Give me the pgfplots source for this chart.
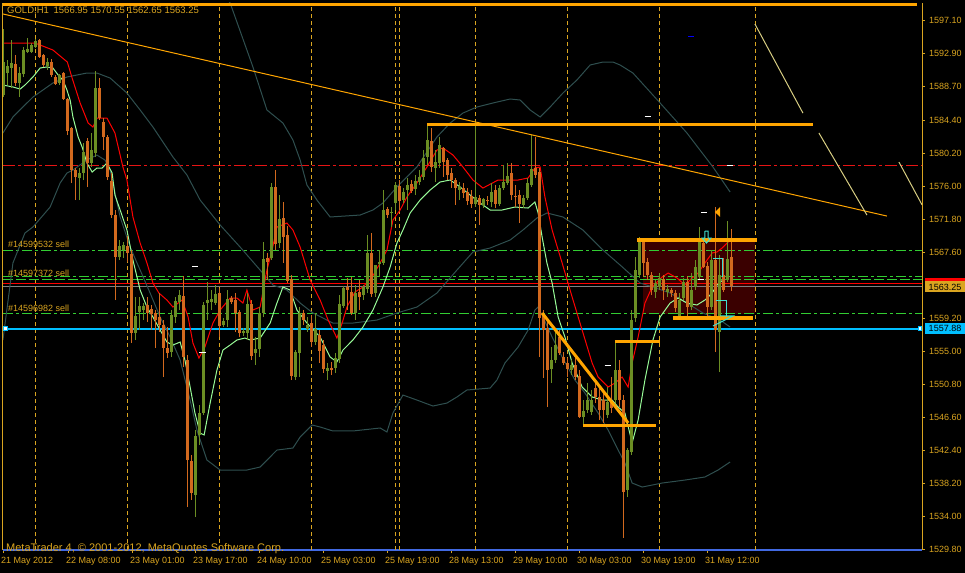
\documentclass[border=0pt]{standalone}
\usepackage{pgfplots}
\pgfplotsset{compat=1.18}
\usepackage{pgfplotstable}
\usepackage{fontspec}
\setmainfont{Liberation Sans}
\definecolor{mtgold}{RGB}{218,165,32}
\definecolor{upc}{RGB}{107,142,35}
\definecolor{dnc}{RGB}{210,105,30}
\definecolor{bbc}{RGB}{47,79,79}
\definecolor{mapg}{RGB}{152,251,152}
\definecolor{lgreen}{RGB}{50,205,50}
\definecolor{dsky}{RGB}{0,191,255}
\definecolor{orng}{RGB}{255,165,0}
\definecolor{khk}{RGB}{215,205,130}
\definecolor{rectc}{RGB}{58,0,0}
\definecolor{turq}{RGB}{64,224,208}
\definecolor{royal}{RGB}{65,105,225}
\definecolor{redl}{RGB}{230,20,20}

\pgfplotstableread{
n o h l c
1 1587.64 1596.05 1587.38 1591.84
2 1590.44 1592.10 1588.91 1591.33
3 1591.08 1594.64 1588.53 1591.71
5 1589.17 1591.21 1587.38 1590.44
6 1590.31 1593.75 1589.93 1593.37
7 1593.12 1594.90 1592.99 1593.50
8 1593.12 1594.26 1592.99 1594.01
9 1593.75 1594.77 1593.63 1594.52
12 1591.33 1592.35 1590.82 1591.84
15 1589.17 1590.31 1588.91 1590.19
20 1577.06 1578.34 1574.26 1577.70
21 1577.70 1581.52 1576.81 1580.38
23 1578.98 1582.80 1578.47 1580.63
24 1580.25 1590.70 1579.74 1588.53
30 1567.00 1569.17 1566.62 1568.40
31 1567.89 1568.91 1566.87 1568.53
34 1557.32 1561.91 1556.43 1559.49
35 1559.99 1561.91 1557.70 1560.76
36 1560.25 1561.14 1558.97 1560.76
43 1554.90 1560.25 1554.26 1559.61
44 1559.36 1561.91 1558.59 1561.40
45 1561.27 1562.80 1560.25 1562.16
49 1536.68 1544.96 1533.88 1544.20
50 1544.33 1548.15 1543.05 1547.13
51 1547.13 1561.27 1546.87 1560.89
52 1561.14 1563.82 1558.97 1561.52
53 1561.27 1562.80 1560.25 1561.65
54 1561.14 1563.43 1560.89 1562.29
56 1558.34 1559.23 1558.08 1558.85
57 1558.97 1562.80 1558.08 1561.65
61 1557.32 1557.96 1556.94 1557.57
62 1557.32 1562.41 1556.43 1561.01
64 1554.77 1556.81 1553.24 1555.28
65 1555.28 1560.63 1554.26 1559.87
66 1559.87 1568.91 1559.36 1566.75
68 1566.87 1576.43 1566.62 1575.92
70 1568.78 1574.90 1568.15 1571.84
74 1551.71 1555.15 1551.33 1554.90
75 1554.77 1560.63 1551.71 1559.87
77 1557.83 1559.36 1557.45 1558.34
79 1556.17 1559.87 1555.79 1557.83
82 1552.48 1553.50 1551.33 1552.86
84 1552.86 1554.77 1552.22 1554.13
85 1554.01 1562.16 1553.50 1561.01
86 1560.76 1563.31 1560.50 1563.05
89 1559.87 1563.43 1558.97 1562.41
91 1562.16 1563.43 1561.52 1563.18
92 1562.92 1569.80 1562.41 1567.51
94 1562.41 1565.98 1561.91 1565.98
95 1566.11 1567.89 1564.45 1566.36
96 1566.24 1575.54 1565.98 1572.99
98 1572.61 1573.37 1570.82 1572.73
99 1573.88 1576.56 1572.99 1576.17
101 1574.26 1575.79 1573.88 1575.28
102 1575.54 1577.07 1572.99 1576.17
104 1575.66 1577.45 1574.90 1576.68
105 1576.56 1578.08 1576.17 1577.19
106 1577.19 1580.63 1576.81 1579.61
107 1579.74 1583.82 1578.72 1581.91
109 1578.34 1580.63 1576.56 1579.10
110 1578.98 1582.29 1578.34 1581.27
115 1575.54 1576.56 1574.26 1575.92
119 1573.75 1584.20 1573.37 1574.64
121 1573.63 1574.52 1573.24 1574.39
123 1574.01 1576.43 1573.37 1575.28
125 1573.75 1576.17 1573.50 1575.79
126 1575.79 1578.72 1575.54 1576.56
127 1576.43 1578.98 1576.17 1577.32
131 1573.63 1574.90 1573.24 1574.52
132 1574.52 1577.07 1574.26 1576.43
133 1576.17 1582.54 1575.92 1578.21
138 1552.73 1555.54 1550.95 1553.88
139 1553.88 1557.70 1553.50 1555.79
143 1552.60 1553.88 1551.97 1553.24
146 1546.62 1548.78 1545.60 1547.38
147 1547.51 1550.95 1547.13 1548.78
148 1547.26 1550.06 1546.87 1548.78
152 1546.87 1550.44 1546.49 1548.53
154 1548.78 1556.17 1548.40 1552.60
157 1537.32 1542.67 1536.43 1542.41
158 1542.16 1560.25 1541.78 1558.97
159 1559.23 1567.00 1558.72 1565.34
160 1564.71 1569.55 1564.33 1569.17
164 1562.54 1564.07 1561.78 1563.69
165 1563.18 1564.96 1562.80 1564.33
167 1562.54 1563.43 1561.91 1562.92
170 1559.36 1562.41 1558.97 1561.52
171 1561.78 1564.33 1561.52 1563.82
173 1560.63 1564.96 1560.25 1562.80
174 1563.18 1566.62 1562.80 1565.73
175 1564.45 1570.82 1564.07 1569.17
178 1560.63 1567.89 1560.25 1566.62
180 1557.45 1567.26 1552.35 1564.71
182 1564.07 1571.59 1563.82 1566.75
}\tabup

\pgfplotstableread{
n o h l c
4 1591.59 1592.73 1588.78 1589.17
10 1594.64 1594.77 1592.35 1592.48
11 1592.73 1592.86 1591.21 1591.46
13 1591.84 1592.22 1589.93 1590.19
14 1589.93 1590.19 1588.91 1589.04
16 1590.44 1590.57 1587.00 1587.13
17 1587.13 1587.26 1582.54 1583.05
18 1583.43 1583.56 1576.43 1578.08
19 1578.08 1578.34 1574.26 1577.19
22 1581.78 1582.16 1575.92 1578.98
25 1588.53 1589.80 1584.45 1584.71
26 1584.20 1584.71 1580.63 1582.29
27 1582.29 1582.54 1576.81 1577.19
28 1576.68 1577.70 1571.97 1572.35
29 1572.35 1572.99 1561.52 1567.00
32 1568.40 1569.68 1566.36 1567.51
33 1567.38 1567.89 1556.04 1557.32
37 1560.89 1561.91 1558.72 1559.87
38 1560.38 1560.89 1557.70 1559.74
39 1559.87 1560.25 1555.41 1558.97
40 1559.36 1562.41 1557.45 1558.34
41 1558.34 1558.97 1551.71 1555.41
42 1555.41 1558.08 1554.13 1554.77
46 1562.03 1564.58 1552.99 1554.26
47 1553.88 1554.52 1535.15 1541.14
48 1541.01 1541.78 1536.05 1536.94
55 1562.41 1563.05 1556.81 1558.21
58 1561.78 1562.03 1561.01 1561.27
59 1561.52 1562.41 1557.45 1559.87
60 1559.99 1560.25 1556.81 1557.32
63 1561.01 1561.52 1553.88 1554.39
67 1566.87 1567.51 1564.07 1566.36
69 1575.92 1578.08 1567.89 1568.66
71 1571.97 1574.01 1566.24 1569.55
72 1569.80 1570.95 1563.69 1563.94
73 1564.20 1564.71 1551.33 1551.84
76 1559.87 1560.25 1558.34 1558.97
78 1558.59 1559.61 1555.54 1556.17
80 1557.07 1557.70 1553.50 1555.03
81 1555.79 1556.43 1552.22 1552.73
83 1552.86 1553.63 1551.97 1552.60
87 1563.18 1564.33 1560.25 1562.80
88 1562.54 1564.45 1559.61 1559.87
90 1562.54 1564.07 1560.25 1561.91
93 1567.51 1570.06 1561.91 1562.29
97 1573.12 1573.37 1571.97 1572.35
100 1576.05 1576.81 1572.99 1574.13
103 1576.30 1576.81 1575.15 1575.41
108 1581.78 1583.43 1577.83 1578.47
111 1580.89 1581.01 1577.19 1579.10
112 1579.36 1579.61 1576.81 1577.45
113 1577.70 1578.34 1575.79 1576.81
114 1576.81 1577.07 1573.63 1575.79
116 1575.79 1576.43 1574.52 1575.15
117 1575.28 1575.79 1573.63 1574.13
118 1574.77 1575.54 1573.24 1573.75
120 1574.52 1574.90 1571.08 1573.63
122 1574.26 1574.77 1573.63 1574.13
124 1575.54 1576.17 1573.24 1573.75
128 1577.70 1578.98 1574.26 1574.90
129 1574.77 1576.17 1573.37 1574.64
130 1574.90 1575.54 1571.33 1573.75
134 1578.34 1582.29 1577.07 1577.45
135 1577.83 1578.34 1554.26 1559.23
136 1559.61 1560.25 1551.59 1557.70
137 1557.96 1558.97 1547.89 1552.60
140 1556.81 1557.70 1554.52 1554.77
141 1554.26 1554.90 1553.24 1553.50
142 1553.50 1554.13 1551.71 1552.73
144 1553.24 1554.26 1551.33 1551.71
145 1551.84 1552.60 1546.49 1546.62
149 1550.31 1551.33 1548.40 1549.17
150 1549.17 1550.44 1546.24 1547.51
151 1548.78 1549.68 1545.86 1547.51
153 1548.53 1551.71 1547.13 1547.76
155 1552.60 1553.88 1547.89 1548.78
156 1548.78 1549.42 1531.21 1537.06
161 1569.17 1569.42 1564.45 1566.24
162 1566.36 1566.87 1564.07 1564.71
163 1564.71 1565.09 1562.16 1562.80
166 1564.20 1564.71 1561.52 1562.80
168 1562.80 1563.05 1561.91 1562.41
169 1562.41 1562.80 1559.99 1560.50
172 1563.82 1564.58 1559.36 1560.63
176 1568.78 1569.17 1565.60 1565.73
177 1565.85 1566.36 1559.36 1560.63
179 1566.62 1573.37 1554.90 1557.70
181 1564.71 1566.87 1562.54 1562.80
183 1566.95 1570.55 1562.65 1563.25
}\tabdn

\begin{document}
\begin{tikzpicture}
\fill[black] (0,0) rectangle (965bp,573bp);
\begin{axis}[
  at={(3bp,23bp)}, anchor=south west, scale only axis,
  width=919bp, height=547bp,
  xmin=0.9167, xmax=230.67, ymin=1529.68, ymax=1599.36,
  axis x line*=bottom, axis y line*=right,
  x axis line style={draw=royal, line width=2bp},
  y axis line style={draw=mtgold, line width=1bp},
  tick align=outside, major tick length=3bp,
  tick style={draw=mtgold, line width=1bp},
  tick label style={font=\fontsize{9bp}{10bp}\selectfont, text=mtgold},
  xtick={0.92,17.17,33.17,48.92,64.92,80.92,96.92,112.92,128.92,144.92,160.92,176.92},
  xticklabels={21 May 2012,22 May 08:00,23 May 01:00,23 May 17:00,24 May 10:00,25 May 03:00,25 May 19:00,28 May 13:00,29 May 10:00,30 May 03:00,30 May 19:00,31 May 12:00},
  xticklabel style={anchor=north west, inner sep=0pt, xshift=-2bp, yshift=-4bp},
  ytick={1529.8,1534.0,1538.2,1542.4,1546.6,1550.8,1555.0,1559.2,1567.6,1571.8,1576.0,1580.2,1584.4,1588.7,1592.9,1597.1},
  yticklabels={1529.80,1534.00,1538.20,1542.40,1546.60,1550.80,1555.00,1559.20,1567.60,1571.80,1576.00,1580.20,1584.40,1588.70,1592.90,1597.10},
  yticklabel style={anchor=west, inner sep=0pt, xshift=4bp},
  extra x ticks={8.92,31.92,54.92,77.92,98.92,99.92,118.92,141.92,164.92,188.92},
  extra x tick labels={},
  extra x tick style={grid=major, major tick length=0pt},
  major grid style={draw=mtgold, dash pattern=on 4bp off 3bp, line width=1bp},
  clip=true,
]
% rectangle zone
\addplot[draw=none, fill=rectc] coordinates {(160.9,1559.74) (188.9,1559.74) (188.9,1568.91) (160.9,1568.91)} -- cycle;
% horizontal order / price lines
\addplot[redl, line width=1bp, dash pattern=on 12bp off 3bp on 3bp off 3bp] coordinates {(0.9167,1578.68) (230.67,1578.68)};
\addplot[lgreen, line width=1bp, dash pattern=on 10bp off 3bp on 3bp off 3bp] coordinates {(0.9167,1567.80) (230.67,1567.80)};
\addplot[lgreen, line width=1bp, dash pattern=on 10bp off 3bp on 3bp off 3bp] coordinates {(0.9167,1564.54) (230.67,1564.54)};
\addplot[lgreen, line width=1bp, dash pattern=on 10bp off 3bp] coordinates {(0.9167,1564.16) (230.67,1564.16)};
\addplot[red, line width=1bp] coordinates {(0.9167,1563.60) (230.67,1563.60)};
\addplot[gray, line width=1bp] coordinates {(0.9167,1563.25) (230.67,1563.25)};
\addplot[lgreen, line width=1bp, dash pattern=on 10bp off 3bp on 3bp off 3bp] coordinates {(0.9167,1559.83) (230.67,1559.83)};
\addplot[dsky, line width=2bp] coordinates {(0.9167,1557.88) (230.67,1557.88)};
% Bollinger bands
\addplot[bbc, line width=1bp] coordinates {(50.2,1604.84) (53.9,1602.03) (57.7,1599.36) (63.4,1591.21) (66.9,1585.73) (70.9,1584.07) (73.4,1581.91) (75.2,1579.36) (76.9,1576.17) (79.4,1574.26) (82.7,1572.10) (90.2,1572.35) (93.4,1572.99) (95.9,1573.88) (99.4,1575.92) (104.4,1578.47) (109.4,1582.29) (112.7,1584.07) (115.9,1585.34) (119.4,1586.11) (123.4,1586.62) (127.7,1587.13) (130.2,1587.00) (132.7,1585.73) (135.2,1584.84) (137.7,1586.11) (140.9,1587.89) (144.4,1589.55) (147.7,1591.46) (150.9,1591.84) (153.4,1591.84) (155.2,1591.46) (158.4,1590.44) (165.2,1586.62) (171.9,1582.80) (178.4,1578.47) (182.7,1575.28)};
\addplot[bbc, line width=1bp] coordinates {(0.9,1582.80) (3.4,1584.84) (8.4,1587.38) (13.4,1589.17) (16.9,1589.93) (21.9,1590.44) (24.4,1590.44) (27.7,1589.80) (31.9,1587.89) (35.2,1585.73) (38.4,1583.56) (43.4,1579.74) (46.9,1577.45) (50.2,1574.26) (55.2,1571.08) (60.2,1568.27) (65.2,1565.34) (68.4,1563.43) (71.9,1562.80) (75.2,1561.14) (78.4,1559.87) (83.4,1558.59) (88.4,1558.59) (94.4,1558.97) (99.4,1559.87) (104.4,1560.63) (109.4,1562.41) (114.4,1565.34) (118.4,1567.64) (122.7,1568.15) (127.7,1569.17) (130.9,1570.44) (134.4,1571.97) (136.9,1572.61) (140.9,1572.10) (145.9,1570.44) (150.9,1567.89) (155.2,1565.98) (160.2,1563.69) (163.4,1563.18) (167.7,1562.41) (171.9,1561.14) (175.9,1559.87) (180.2,1558.97) (182.7,1558.08)};
\addplot[bbc, line width=1bp] coordinates {(0.9,1556.43) (3.4,1566.24) (6.4,1570.06) (8.4,1570.82) (12.7,1573.37) (15.2,1576.43) (16.9,1577.70) (18.4,1578.08) (21.9,1579.36) (24.4,1579.99) (26.4,1579.36) (27.7,1578.08) (30.2,1572.10) (32.7,1568.27) (35.2,1565.34) (37.7,1562.41) (40.2,1559.36) (42.7,1556.81) (45.2,1553.88) (47.7,1548.78) (49.4,1544.96) (51.9,1541.14) (55.2,1539.87) (61.9,1539.87) (65.2,1540.25) (69.4,1542.41) (73.4,1542.67) (75.2,1544.07) (78.2,1545.60) (80.2,1545.35) (83.4,1544.84) (88.4,1544.84) (95.2,1545.22) (96.9,1544.71) (98.4,1547.13) (100.9,1549.42) (104.4,1548.78) (108.4,1548.02) (111.9,1548.40) (114.4,1549.17) (116.9,1550.06) (122.7,1550.31) (124.4,1551.33) (126.4,1553.50) (129.7,1555.54) (132.2,1557.70) (133.9,1560.25) (134.7,1560.63) (135.9,1559.36) (138.2,1556.81) (140.7,1554.26) (143.9,1551.33) (146.4,1549.68) (149.7,1547.13) (152.2,1544.96) (154.7,1542.41) (156.4,1540.76) (158.2,1538.21) (160.7,1537.70) (165.7,1538.21) (171.4,1538.59) (176.4,1538.98) (179.7,1539.87) (182.7,1540.89)};
% moving averages
\addplot[red, line width=1bp] coordinates {(0.9,1594.26) (8.9,1594.26) (13.4,1593.37) (17,1591.84) (18.2,1589.80) (20.2,1586.62) (22.2,1584.07) (23.4,1583.56) (24.4,1584.71) (26.9,1584.71) (28.9,1582.80) (30.9,1578.47) (31.9,1576.81) (33.4,1572.10) (35.2,1568.78) (36.9,1566.24) (38.4,1563.69) (39.9,1562.41) (41.9,1561.52) (43.4,1560.63) (45.7,1561.52) (47.2,1559.36) (48.4,1556.05) (49.9,1554.13) (51.4,1555.54) (53.4,1558.59) (55.2,1560.25) (57.7,1561.78) (59.4,1561.78) (60.9,1561.14) (61.9,1562.80) (63.4,1560.25) (65.2,1560.63) (66.9,1565.34) (68.2,1567.89) (69.4,1570.82) (71.9,1571.33) (73.4,1570.44) (75.2,1568.27) (77.7,1564.07) (80.2,1561.52) (82.2,1558.97) (84.4,1556.68) (85.7,1558.59) (86.9,1560.63) (88.9,1562.54) (90.9,1563.18) (93.2,1564.45) (95.2,1566.24) (96.9,1567.89) (98.4,1571.71) (100.2,1572.99) (101.9,1574.64) (104.4,1576.43) (106.9,1578.47) (109.4,1580.63) (110.9,1580.89) (113.4,1580.00) (115.9,1578.47) (118.4,1576.81) (120.9,1575.79) (124.7,1576.81) (129.7,1576.81) (132.2,1577.07) (133.9,1578.34) (135.2,1578.47) (136.4,1574.64) (138.2,1570.44) (140.7,1566.24) (143.2,1561.91) (145.7,1557.70) (148.2,1553.50) (149.7,1551.71) (152.2,1550.44) (153.9,1550.95) (155.7,1551.71) (157.2,1550.44) (158.2,1553.50) (159.7,1556.81) (161.4,1561.14) (163.2,1563.18) (165.7,1564.45) (167.2,1564.96) (169.4,1564.33) (171.4,1563.43) (173.2,1564.33) (174.7,1564.96) (176.4,1566.24) (178.2,1567.51) (179.4,1567.64) (180.7,1568.15) (182.7,1569.17)};
\addplot[mapg, line width=1bp] coordinates {(0.9,1588.91) (3.4,1588.66) (5.2,1588.40) (6.4,1588.91) (8.4,1589.93) (10.2,1591.08) (11.9,1591.21) (13.4,1591.08) (14.7,1590.19) (15.9,1589.55) (16.9,1588.27) (17.7,1587.00) (18.4,1584.84) (19.7,1582.29) (20.7,1581.01) (21.9,1578.98) (23.2,1577.83) (24.4,1578.34) (25.7,1578.34) (26.9,1578.98) (28.2,1577.70) (28.9,1574.90) (30.2,1572.99) (31.9,1570.44) (33.4,1566.62) (35.2,1562.80) (36.9,1560.63) (38.4,1559.36) (40.2,1557.70) (41.9,1556.17) (43.4,1555.79) (45.2,1556.17) (46.4,1553.88) (47.7,1550.44) (48.9,1547.13) (50.2,1544.58) (51.2,1544.33) (52.7,1548.40) (54.4,1552.60) (55.9,1555.15) (57.7,1555.79) (59.4,1556.43) (61.4,1556.68) (62.7,1556.43) (65.2,1556.68) (67.7,1558.59) (69.4,1561.14) (70.9,1563.18) (72.7,1562.80) (74.4,1560.25) (76.9,1558.59) (80.2,1556.81) (82.7,1554.26) (84.4,1553.63) (85.9,1555.15) (88.4,1556.43) (90.9,1558.08) (93.4,1560.25) (95.9,1563.18) (97.7,1565.73) (99.4,1568.78) (100.9,1570.44) (102.7,1572.61) (105.2,1574.26) (107.7,1575.54) (110.2,1576.56) (112.7,1576.81) (115.2,1575.92) (117.7,1574.90) (120.2,1573.88) (122.7,1572.99) (125.7,1572.99) (128.9,1573.37) (132.2,1573.24) (133.9,1574.01) (134.7,1572.61) (135.7,1569.55) (136.9,1566.24) (138.2,1563.69) (139.7,1559.36) (141.4,1556.81) (143.2,1553.50) (145.7,1550.44) (148.2,1549.17) (150.7,1548.78) (153.2,1548.78) (154.7,1547.89) (156.4,1547.13) (158.2,1543.31) (159.7,1546.24) (161.4,1551.33) (163.4,1556.43) (165.2,1559.36) (167.7,1561.14) (169.7,1561.78) (171.9,1561.14) (174.4,1560.89) (176.4,1561.52) (178.2,1562.41) (179.4,1563.43) (180.9,1564.07)};
% candles: wicks
\addplot[draw=none, mark=none, error bars/.cd, y dir=plus, y explicit, error mark=none, error bar style={draw=upc, line width=1bp}] table[x=n, y=l, y error plus expr={\thisrow{h}-\thisrow{l}}] {\tabup};
\addplot[draw=none, mark=none, error bars/.cd, y dir=plus, y explicit, error mark=none, error bar style={draw=dnc, line width=1bp}] table[x=n, y=l, y error plus expr={\thisrow{h}-\thisrow{l}}] {\tabdn};
% candles: bodies
\addplot[draw=none, mark=none, error bars/.cd, y dir=plus, y explicit, error mark=none, error bar style={draw=upc, line width=3bp}] table[x=n, y=o, y error plus expr={max(\thisrow{c}-\thisrow{o},0.13)}] {\tabup};
\addplot[draw=none, mark=none, error bars/.cd, y dir=plus, y explicit, error mark=none, error bar style={draw=dnc, line width=3bp}] table[x=n, y=c, y error plus expr={max(\thisrow{o}-\thisrow{c},0.13)}] {\tabdn};
% drawn objects
\addplot[orng, line width=3bp] coordinates {(0.92,1599.17) (229.4,1599.17)};
\addplot[orng, line width=1bp] coordinates {(0.92,1597.96) (221.9,1572.22)};
\addplot[orng, line width=3.5bp] coordinates {(106.9,1583.88) (203.4,1583.88)};
\addplot[orng, line width=3.5bp] coordinates {(159.4,1569.17) (189.4,1569.17)};
\addplot[orng, line width=3.5bp] coordinates {(168.4,1559.23) (188.4,1559.23)};
\addplot[orng, line width=3bp] coordinates {(153.9,1556.24) (165.2,1556.24)};
\addplot[orng, line width=3bp] coordinates {(145.9,1545.60) (164.2,1545.60)};
\addplot[orng, line width=3bp] coordinates {(135.7,1559.87) (157.2,1545.86)};
\addplot[khk, line width=1bp] coordinates {(188.9,1596.68) (200.9,1585.34)};
\addplot[khk, line width=1bp] coordinates {(204.9,1582.80) (216.9,1572.35)};
\addplot[khk, line width=1bp] coordinates {(224.9,1579.10) (230.7,1573.63)};
% small markers
\addplot[white, line width=1bp] coordinates {(48.2,1565.73) (49.7,1565.73)};
\addplot[white, line width=1bp] coordinates {(50.0,1554.90) (51.7,1554.90)};
\addplot[white, line width=1bp] coordinates {(151.3,1553.24) (152.8,1553.24)};
\addplot[white, line width=1bp] coordinates {(161.3,1584.96) (162.8,1584.96)};
\addplot[white, line width=1bp] coordinates {(181.9,1578.72) (183.4,1578.72)};
\addplot[white, line width=1bp] coordinates {(175.4,1572.73) (176.9,1572.73)};
\addplot[white, line width=1bp] coordinates {(174.6,1564.20) (176.1,1564.20)};
\addplot[blue, line width=1bp] coordinates {(172.2,1595.03) (173.7,1595.03)};
\addplot[turq, line width=1bp] coordinates {(176.4,1570.31) (177.2,1570.31) (177.2,1569.42) (177.9,1569.42) (176.8,1568.78) (175.7,1569.42) (176.4,1569.42) (176.4,1570.31)};
\addplot[turq, line width=1bp] coordinates {(178.4,1566.87) (180.9,1566.87) (180.9,1564.45)};
\addplot[turq, line width=1bp] coordinates {(179.2,1561.52) (181.7,1561.52) (181.7,1559.36)};
\addplot[turq, line width=1bp] coordinates {(178.4,1558.21) (183.4,1559.49) (180.2,1559.49)};
\addplot[draw=none, fill=orng] coordinates {(178.9,1572.73) (180.2,1573.37) (180.2,1572.10)} -- cycle;
\end{axis}
% frame pieces
\draw[mtgold, line width=1bp] (2.5bp,23bp) -- (2.5bp,570bp);
% texts
\node[anchor=base west, inner sep=0pt, text=mtgold, font=\fontsize{9.5bp}{10bp}\selectfont] at (7bp,559bp) {GOLD,H1\enspace 1566.95 1570.55 1562.65 1563.25};
\node[anchor=base west, inner sep=0pt, text=mtgold, font=\fontsize{9bp}{10bp}\selectfont] at (8bp,325bp) {\#14599532 sell};
\node[anchor=base west, inner sep=0pt, text=mtgold, font=\fontsize{9bp}{10bp}\selectfont] at (8bp,296bp) {\#14597372 sell};
\node[anchor=base west, inner sep=0pt, text=mtgold, font=\fontsize{9bp}{10bp}\selectfont] at (8bp,261bp) {\#14596982 sell};
\node[anchor=base west, inner sep=0pt, text=mtgold, font=\fontsize{11bp}{12bp}\selectfont] at (6bp,22bp) {MetaTrader 4, © 2001-2012, MetaQuotes Software Corp.};
% right price boxes
\fill[red] (925bp,284bp) rectangle (965bp,295bp);
\fill[mtgold] (925bp,280.5bp) rectangle (965bp,291.5bp);
\node[text=black, inner sep=0pt, font=\fontsize{9bp}{10bp}\selectfont] at (945bp,286bp) {1563.25};
\fill[dsky] (925bp,239bp) rectangle (965bp,250bp);
\node[text=black, inner sep=0pt, font=\fontsize{9bp}{10bp}\selectfont] at (945bp,244.5bp) {1557.88};
\draw[dsky, fill=white, line width=1bp] (3.5bp,242.5bp) rectangle (7bp,246bp);
\draw[dsky, fill=white, line width=1bp] (918bp,242.5bp) rectangle (921.5bp,246bp);
\pgfresetboundingbox
\path[use as bounding box] (0,0) rectangle (965bp,573bp);
\end{tikzpicture}
\end{document}
